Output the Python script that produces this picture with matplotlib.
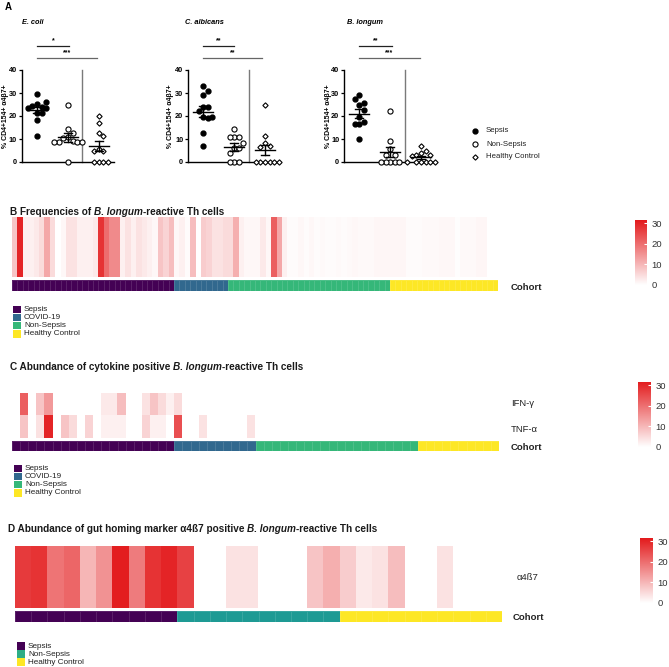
import matplotlib
matplotlib.use('Agg')
import matplotlib.pyplot as plt
import numpy as np
from matplotlib.colors import LinearSegmentedColormap, ListedColormap
from matplotlib.patches import Rectangle

plt.rcParams['font.family'] = ['Liberation Sans', 'DejaVu Sans']

# ---------------- data ----------------
groups = ["Sepsis", "Non-Sepsis", "Healthy Control"]

ecoli_sepsis = [29.5, 25.2, 24.0, 24.3, 26.2, 23.3, 23.3, 21.2, 21.2, 18.3, 11.3]
ecoli_nonsepsis = [25.0, 14.5, 12.5, 11.0, 10.3, 9.0, 8.8, 8.8, 8.8, 8.8, 0.0]
ecoli_healthy = [20.0, 16.8, 12.5, 11.4, 5.5, 5.0, 4.8, 0.0, 0.0, 0.0, 0.0]

calb_sepsis = [33.0, 31.0, 29.0, 24.0, 24.0, 22.0, 19.5, 19.0, 19.5, 12.5, 7.0]
calb_nonsepsis = [14.5, 11.0, 11.0, 11.0, 8.4, 6.0, 6.0, 3.8, 0.0, 0.0, 0.0]
calb_healthy = [24.8, 11.3, 8.4, 7.0, 6.5, 0.0, 0.0, 0.0, 0.0, 0.0, 0.0]

blong_sepsis = [29.1, 25.0, 25.8, 27.2, 22.6, 19.7, 17.5, 16.5, 16.5, 9.9]
blong_nonsepsis = [22.0, 9.0, 5.5, 3.0, 3.0, 0.0, 0.0, 0.0, 0.0, 0.0]
blong_healthy = [7.0, 5.0, 4.0, 3.0, 3.0, 2.5, 0.0, 0.0, 0.0, 0.0, 0.0, 0.0]

ecoli_sig = [(1, 2.05, "*"), (1, 2.95, "***")]
calb_sig = [(1, 2.0, "**"), (1, 2.9, "**")]
blong_sig = [(1, 2.05, "**"), (1, 2.95, "***")]

yticks_a = [0, 10, 20, 30, 40]

# heatmap B: 90 samples (Sepsis 30, COVID-19 10, Non-Sepsis 30, Healthy 20)
cohorts4 = ["Sepsis", "COVID-19", "Non-Sepsis", "Healthy Control"]
B_counts = [30, 10, 30, 20]
B_vals = [8, 30, 2, 2, 3, 5, 12, 5, 0, 1, 4, 4, 2, 2, 2, 3, 28, 20, 16, 16,
          2, 4, 2, 4, 3, 2, 1, 8, 6, 9,
          1, 2, 0.5, 9, 0, 7, 6, 4, 4, 5,
          5, 11, 2, 1, 1, 1, 3, 1, 22, 12, 2, 0.5, 0.5, 1, 0.5, 1, 0.5, 0.8, 0.5, 0.5,
          0.8, 0.5, 0.8, 1, 0.8, 0.8, 0.8, 1.2, 1.2, 1.2,
          1.2, 1.2, 1.2, 0.5, 0.5, 0.5, 0.8, 0.8, 0.8, 1, 1, 1, 0.3, 0.8, 0.8, 0.8,
          1.2, 1.2, 0, 0]

# heatmap C: 60 samples (Sepsis 20, COVID-19 10, Non-Sepsis 20, Healthy 10)
C_counts = [20, 10, 20, 10]
C_rows = ["IFN-γ", "TNF-α"]
C_ifng = [0, 22, 0, 8, 14, 0, 0, 0, 0, 0, 0, 3, 3, 9, 0, 0, 4, 8, 5, 2,
          5, 0, 0, 0, 0, 0, 0, 0, 0, 0,
          0, 0, 0, 0, 0, 0, 0, 0, 0, 0, 0, 0, 0, 0, 0, 0, 0, 0, 0, 0,
          0, 0, 0, 0, 0, 0, 0, 0, 0, 0]
C_tnfa = [0, 8, 0, 4, 30, 0, 8, 5, 0, 6, 0, 2, 2, 2, 0, 0, 6, 2, 2, 0,
          24, 0, 0, 4, 0, 0, 0, 0, 0, 4,
          0, 0, 0, 0, 0, 0, 0, 0, 0, 0, 0, 0, 0, 0, 0, 0, 0, 0, 0, 0,
          0, 0, 0, 0, 0, 0, 0, 0, 0, 0]

# heatmap D: 30 samples (Sepsis 10, Non-Sepsis 10, Healthy 10)
cohorts3 = ["Sepsis", "Non-Sepsis", "Healthy Control"]
D_counts = [10, 10, 10]
D_vals = [27, 28, 19, 21, 10, 15, 31, 18, 28, 30,
          26, 0, 0, 4, 4, 0, 0, 0, 8, 11,
          7, 3, 4, 9, 0, 0, 4, 0, 0, 0]

cbar_ticks = [0, 10, 20, 30]
VMAX = 31.5

# ---------------- figure ----------------
W, H = 669, 667
fig = plt.figure(figsize=(W / 100, H / 100), dpi=100)


def px_axes(x0, y0, x1, y1):
    return fig.add_axes([x0 / W, 1 - y1 / H, (x1 - x0) / W, (y1 - y0) / H])


def fx(x):
    return x / W


def fy(y):
    return 1 - y / H


renderer = fig.canvas.get_renderer()


def text_w(s, size, style):
    t1 = fig.text(0, 0, s + "|", fontsize=size, fontweight='bold', fontstyle=style)
    t2 = fig.text(0, 0, "|", fontsize=size, fontweight='bold', fontstyle=style)
    w = t1.get_window_extent(renderer).width - t2.get_window_extent(renderer).width
    t1.remove(); t2.remove()
    return w


def rich_title(x, y, parts, size=7.2):
    cx = x
    for s, style in parts:
        fig.text(fx(cx), fy(y), s, fontsize=size, fontweight='bold', fontstyle=style,
                 va='center', ha='left', color='#1a1a1a')
        cx += text_w(s, size, style)


overlay = fig.add_axes([0, 0, 1, 1])
overlay.set_xlim(0, W)
overlay.set_ylim(H, 0)
overlay.axis('off')

# ---------------- panel A ----------------
fig.text(fx(5), fy(7), "A", fontsize=7, fontweight='bold', va='center', ha='left')


def swarm(vals, d=0.15, tol=2.6):
    placed = []
    offs = []
    cands = [0]
    for k in range(1, 8):
        cands += [k * d, -k * d]
    for v in vals:
        for c in cands:
            ok = all(abs(v - pv) > tol or abs(c - po) > d * 0.9 for pv, po in placed)
            if ok:
                placed.append((v, c))
                offs.append(c)
                break
    return np.array(offs)


panelsA = [
    ("E. coli", 21.7, [ecoli_sepsis, ecoli_nonsepsis, ecoli_healthy], ecoli_sig, 22, 6),
    ("C. albicans", 188, [calb_sepsis, calb_nonsepsis, calb_healthy], calb_sig, 185, 170),
    ("B. longum", 344, [blong_sepsis, blong_nonsepsis, blong_healthy], blong_sig, 347, 328),
]
styles = [dict(marker='o', mfc='black', mec='black', ms=3.5),
          dict(marker='o', mfc='white', mec='black', ms=3.7, mew=0.8),
          dict(marker='D', mfc='white', mec='black', ms=2.7, mew=0.8)]

for title, x0, sets, sigs, tx, lx in panelsA:
    ax = px_axes(x0, 70, x0 + 92, 162)
    ax.set_xlim(0.51, 3.48)
    ax.set_ylim(0, 40)
    for s in ['top', 'right']:
        ax.spines[s].set_visible(False)
    for s in ['left', 'bottom']:
        ax.spines[s].set_linewidth(1.0)
    ax.set_xticks([])
    ax.set_yticks(yticks_a)
    ax.tick_params(axis='y', length=2.5, width=0.9, pad=1, labelsize=5.3)
    for lbl in ax.get_yticklabels():
        lbl.set_fontweight('bold')
    ax.plot([2.47, 2.47], [0, 40], color='#7a7a7a', lw=1.0, clip_on=False)
    for gi, vals in enumerate(sets):
        vals = np.array(vals)
        offs = swarm(vals)
        xc = gi + 1
        ax.plot(xc + offs, vals, linestyle='none', clip_on=False, zorder=3, **styles[gi])
        m = vals.mean()
        se = vals.std(ddof=1) / np.sqrt(len(vals))
        ax.plot([xc - 0.32, xc + 0.32], [m, m], color='black', lw=1.0, zorder=4)
        ax.plot([xc, xc], [m - se, m + se], color='black', lw=1.0, zorder=4)
        ax.plot([xc - 0.13, xc + 0.13], [m + se, m + se], color='black', lw=1.0, zorder=4)
        ax.plot([xc - 0.13, xc + 0.13], [m - se, m - se], color='black', lw=1.0, zorder=4)
    sig_y = [50.4, 45.2]
    sig_c = ['#222222', '#666666']
    for (a, b, star), yy, cc in zip(sigs, sig_y, sig_c):
        ax.plot([a, b], [yy, yy], color=cc, lw=0.9, clip_on=False)
        ax.text((a + b) / 2, yy + 0.6, star, ha='center', va='bottom', fontsize=5, fontweight='bold',
                clip_on=False)
    fig.text(fx(tx), fy(23), title, fontsize=5.3, fontweight='bold', fontstyle='italic',
             va='center', ha='left')
    fig.text(fx(lx), fy(116), "% CD4+154+ α4β7+", fontsize=5, fontweight='bold',
             rotation=90, va='center', ha='center')

# legend A
for i, g in enumerate(groups):
    yy = 131 + 13 * i
    st = dict(styles[i])
    overlay.plot([475], [yy], linestyle='none', **st)
    overlay.text(486, yy, g, fontsize=5.6, va='center', ha='left', color='#222222')

# ---------------- heatmaps ----------------
cmap = LinearSegmentedColormap.from_list('wr', ['#FFFFFF', '#E31A1C'])
col4 = ['#440154', '#31688E', '#35B779', '#FDE725']
col3 = ['#440154', '#1E9A94', '#FDE725']
col3_leg = ['#440154', '#2EAD86', '#FDE725']


def heat(x0, y0, x1, y1, mat):
    ax = px_axes(x0, y0, x1, y1)
    ax.imshow(np.array(mat, dtype=float), cmap=cmap, vmin=0, vmax=VMAX, aspect='auto',
              interpolation='nearest')
    ax.axis('off')
    return ax


def cohort_bar(x0, y0, x1, y1, counts, colors):
    ax = px_axes(x0, y0, x1, y1)
    codes = np.repeat(np.arange(len(counts)), counts)[None, :]
    ax.pcolormesh(codes, cmap=ListedColormap(colors), vmin=-0.5, vmax=len(colors) - 0.5,
                  edgecolors=(1, 1, 1, 0.12), linewidth=0.4)
    ax.set_xlim(0, codes.shape[1])
    ax.axis('off')
    return ax


def cbar(x0, y0, x1, y1):
    cax = px_axes(x0, y0, x1, y1)
    grad = np.linspace(0, VMAX, 256)[:, None]
    cax.imshow(grad, origin='lower', extent=[0, 1, 0, VMAX], aspect='auto', cmap=cmap,
               vmin=0, vmax=VMAX)
    cax.set_xticks([])
    cax.yaxis.tick_right()
    cax.set_yticks(cbar_ticks)
    cax.tick_params(axis='y', direction='in', color='white', length=2, width=0.8, pad=3,
                    labelsize=6.8, labelcolor='#333333')
    for s in cax.spines.values():
        s.set_visible(False)


def legend_sq(x, y0, names, colors):
    for i, (n, c) in enumerate(zip(names, colors)):
        yy = y0 + 8.1 * i
        overlay.add_patch(Rectangle((x, yy - 3.8), 7.5, 7.5, facecolor=c, edgecolor='none'))
        overlay.text(x + 11, yy, n, fontsize=5.9, va='center', ha='left', color='#222222')


# Panel B
rich_title(10, 212, [("B Frequencies of ", 'normal'), ("B. longum", 'italic'),
                     ("-reactive Th cells", 'normal')])
heat(12, 217, 498, 277, [B_vals])
cohort_bar(12, 280, 498, 291, B_counts, col4)
fig.text(fx(511), fy(287), "Cohort", fontsize=6.8, fontweight='bold', va='center', ha='left',
         color='#222222')
cbar(635, 220, 647, 285)
legend_sq(13, 309.5, cohorts4, col4)

# Panel C
rich_title(10, 367, [("C Abundance of cytokine positive ", 'normal'), ("B. longum", 'italic'),
                     ("-reactive Th cells", 'normal')])
heat(12, 393, 499, 438, [C_ifng, C_tnfa])
cohort_bar(12, 441, 499, 451, C_counts, col4)
fig.text(fx(511), fy(404), C_rows[0], fontsize=6.8, va='center', ha='left', color='#222222')
fig.text(fx(511), fy(430), C_rows[1], fontsize=6.8, va='center', ha='left', color='#222222')
fig.text(fx(511), fy(447), "Cohort", fontsize=6.8, fontweight='bold', va='center', ha='left',
         color='#222222')
cbar(638, 382, 651, 447)
legend_sq(14, 468.5, cohorts4, col4)

# Panel D
rich_title(8, 529, [("D Abundance of gut homing marker α4ß7 positive ", 'normal'),
                    ("B. longum", 'italic'), ("-reactive Th cells", 'normal')])
heat(15, 546, 502, 608, [D_vals])
cohort_bar(15, 611, 502, 622, D_counts, col3)
fig.text(fx(517), fy(578), "α4ß7", fontsize=6.8, va='center', ha='left', color='#222222')
fig.text(fx(513), fy(617), "Cohort", fontsize=6.8, fontweight='bold', va='center', ha='left',
         color='#222222')
cbar(640, 538, 653, 603)
legend_sq(17, 646, cohorts3, col3_leg)

fig.savefig('out.png', dpi=100)
